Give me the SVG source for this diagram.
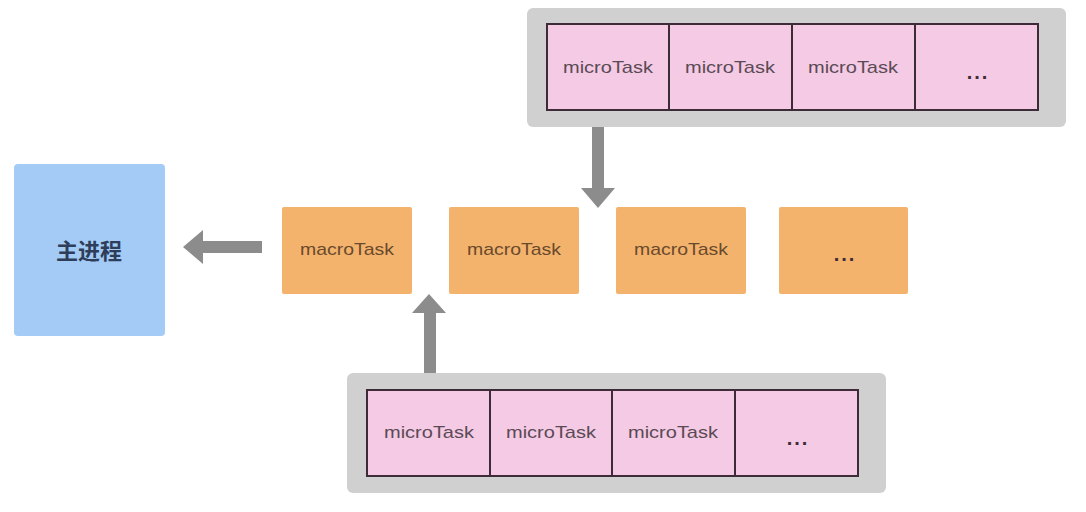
<svg xmlns="http://www.w3.org/2000/svg" width="1086" height="512" viewBox="0 0 1086 512">
<style>
.bg{fill:#ffffff}
.tray{fill:#d0d0d0}
.cell{fill:#f5cae4;stroke:#3d2c37;stroke-width:2}
.macro{fill:#f3b36c}
.main{fill:#a3cbf6}
.mt{font-family:"Liberation Sans","DejaVu Sans",sans-serif;font-size:17px;fill:#5a4a55;text-anchor:middle;dominant-baseline:central}
.ma{font-family:"Liberation Sans","DejaVu Sans",sans-serif;font-size:17px;fill:#6a4a2c;text-anchor:middle;dominant-baseline:central}
.dots{font-family:"Liberation Sans","DejaVu Sans",sans-serif;font-size:20px;font-weight:bold;fill:#3d2c37;text-anchor:middle;dominant-baseline:central;letter-spacing:2px}
.zh{font-family:"Noto Sans CJK SC","Noto Sans",sans-serif;font-size:22px;font-weight:bold;fill:#2e3d5a;text-anchor:middle;dominant-baseline:central}
.arrow{fill:#8c8c8c}
</style>
<rect class="bg" width="1086" height="512"/>
<g id="main-process">
<rect class="main" x="14" y="164" width="151" height="172" rx="4"/>
<text class="zh" x="89" y="249">主进程</text>
</g>
<g id="macro1">
<rect class="macro" x="282" y="207" width="130" height="87" rx="2"/>
<text class="ma" x="347" y="249" textLength="94" lengthAdjust="spacingAndGlyphs">macroTask</text>
</g>
<g id="macro2">
<rect class="macro" x="449" y="207" width="130" height="87" rx="2"/>
<text class="ma" x="514" y="249" textLength="94" lengthAdjust="spacingAndGlyphs">macroTask</text>
</g>
<g id="macro3">
<rect class="macro" x="616" y="207" width="130" height="87" rx="2"/>
<text class="ma" x="681" y="249" textLength="94" lengthAdjust="spacingAndGlyphs">macroTask</text>
</g>
<g id="macro4">
<rect class="macro" x="779" y="207" width="129" height="87" rx="2"/>
<text class="dots" x="845" y="254">...</text>
</g>
<g id="micro-queue-top">
<rect class="tray" x="527" y="8" width="539" height="119" rx="6"/>
<rect class="cell" x="547" y="24" width="122" height="86"/>
<rect class="cell" x="669" y="24" width="123" height="86"/>
<rect class="cell" x="792" y="24" width="123" height="86"/>
<rect class="cell" x="915" y="24" width="123" height="86"/>
<text class="mt" x="608" y="67" textLength="90" lengthAdjust="spacingAndGlyphs">microTask</text>
<text class="mt" x="730" y="67" textLength="90" lengthAdjust="spacingAndGlyphs">microTask</text>
<text class="mt" x="853" y="67" textLength="90" lengthAdjust="spacingAndGlyphs">microTask</text>
<text class="dots" x="978" y="72">...</text>
</g>
<g id="micro-queue-bottom">
<rect class="tray" x="347" y="373" width="539" height="120" rx="6"/>
<rect class="cell" x="367" y="390" width="123" height="86"/>
<rect class="cell" x="490" y="390" width="122" height="86"/>
<rect class="cell" x="612" y="390" width="123" height="86"/>
<rect class="cell" x="735" y="390" width="123" height="86"/>
<text class="mt" x="429" y="432" textLength="90" lengthAdjust="spacingAndGlyphs">microTask</text>
<text class="mt" x="551" y="432" textLength="90" lengthAdjust="spacingAndGlyphs">microTask</text>
<text class="mt" x="673" y="432" textLength="90" lengthAdjust="spacingAndGlyphs">microTask</text>
<text class="dots" x="798" y="438">...</text>
</g>
<g id="connectors">
<polygon class="arrow" points="592,127 604,127 604,188 615,188 598,208 581,188 592,188"/>
<polygon class="arrow" points="262,241 262,253 203,253 203,264 183,247 203,230 203,241"/>
<polygon class="arrow" points="424,373 436,373 436,313 446,313 429,294 412,313 424,313"/>
</g>
</svg>
